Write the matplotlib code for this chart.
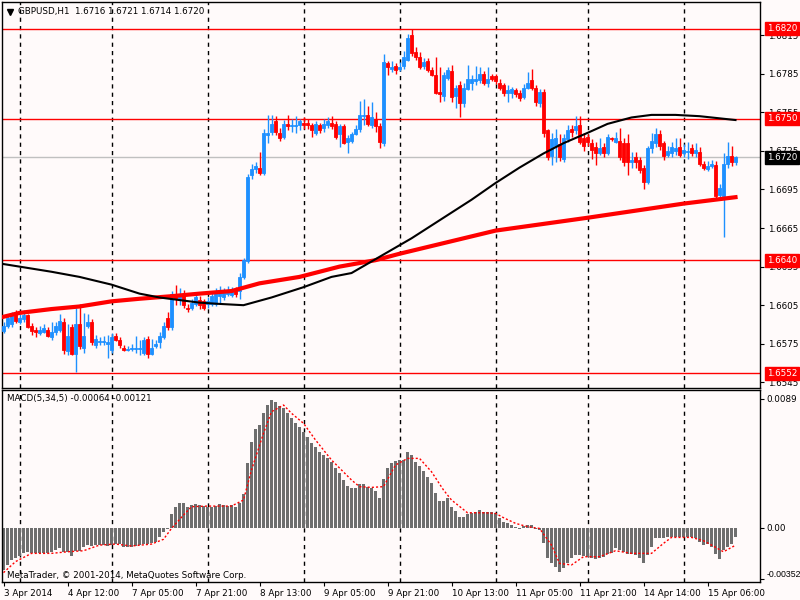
import numpy as np
import matplotlib
matplotlib.use('Agg')
import matplotlib.pyplot as plt

# GBPUSD H1 candles, prices in pips (x 0.0001)
opens = [
    16585, 16589, 16590, 16598, 16592, 16594, 16597, 16589, 16586, 16583,
    16584, 16586, 16580, 16584, 16586, 16592, 16569, 16588, 16567, 16590,
    16572, 16589, 16592, 16574, 16576, 16576, 16575, 16570, 16581, 16578,
    16572, 16570, 16571, 16571, 16571, 16568, 16579, 16567, 16573, 16576,
    16580, 16595, 16588, 16613, 16609, 16613, 16603, 16603, 16606, 16609,
    16608, 16606, 16606, 16606, 16612, 16611, 16614, 16613, 16617, 16616,
    16627, 16639, 16706, 16711, 16712, 16708, 16737, 16740, 16748, 16739,
    16736, 16746, 16744, 16744, 16745, 16747, 16747, 16745, 16739, 16745,
    16743, 16745, 16747, 16746, 16738, 16744, 16732, 16733, 16738, 16742,
    16752, 16753, 16745, 16750, 16744, 16731, 16793, 16789, 16791, 16789,
    16791, 16796, 16815, 16802, 16798, 16791, 16795, 16788, 16784, 16771,
    16768, 16782, 16787, 16768, 16776, 16762, 16773, 16778, 16779, 16780,
    16785, 16778, 16783, 16783, 16778, 16776, 16770, 16770, 16772, 16770,
    16767, 16774, 16780, 16774, 16762, 16771, 16741, 16721, 16729, 16730,
    16719, 16734, 16742, 16741, 16745, 16735, 16736, 16731, 16728, 16723,
    16728, 16723, 16735, 16732, 16733, 16731, 16731, 16716, 16720, 16718,
    16712, 16701, 16727, 16731, 16738, 16731, 16722, 16723, 16725, 16728,
    16723, 16724, 16727, 16723, 16724, 16715, 16711, 16713, 16714, 16691,
    16690, 16715, 16721, 16716,
]
highs = [
    16592, 16597, 16600, 16601, 16598, 16601, 16598, 16591, 16588, 16589,
    16590, 16588, 16592, 16592, 16598, 16595, 16590, 16590, 16603, 16606,
    16599, 16598, 16594, 16582, 16580, 16581, 16582, 16583, 16583, 16580,
    16574, 16573, 16575, 16581, 16578, 16580, 16581, 16579, 16578, 16584,
    16592, 16600, 16616, 16621, 16618, 16617, 16606, 16610, 16614, 16612,
    16610, 16611, 16615, 16618, 16620, 16618, 16620, 16619, 16619, 16630,
    16642, 16707, 16715, 16716, 16724, 16742, 16753, 16753, 16752, 16743,
    16749, 16753, 16750, 16752, 16750, 16751, 16750, 16747, 16748, 16747,
    16750, 16751, 16752, 16748, 16746, 16746, 16737, 16740, 16745, 16764,
    16765, 16760, 16763, 16755, 16747, 16800, 16795, 16795, 16793, 16794,
    16803, 16816, 16820, 16806, 16802, 16797, 16797, 16790, 16798, 16790,
    16786, 16790, 16792, 16776, 16779, 16778, 16792, 16784, 16791, 16790,
    16787, 16790, 16785, 16785, 16781, 16778, 16776, 16775, 16774, 16772,
    16777, 16786, 16789, 16776, 16773, 16773, 16742, 16739, 16742, 16738,
    16738, 16745, 16745, 16752, 16752, 16739, 16738, 16734, 16732, 16735,
    16731, 16738, 16736, 16740, 16743, 16735, 16738, 16724, 16724, 16720,
    16714, 16729, 16739, 16743, 16741, 16733, 16729, 16732, 16735, 16735,
    16730, 16732, 16730, 16731, 16728, 16717, 16717, 16718, 16717, 16699,
    16723, 16732, 16729, 16721,
]
lows = [
    16583, 16587, 16588, 16591, 16590, 16592, 16587, 16582, 16580, 16582,
    16583, 16580, 16578, 16582, 16584, 16567, 16566, 16566, 16553, 16571,
    16568, 16587, 16574, 16572, 16574, 16574, 16564, 16568, 16577, 16572,
    16569, 16569, 16569, 16568, 16566, 16566, 16564, 16566, 16572, 16572,
    16579, 16586, 16586, 16605, 16605, 16603, 16600, 16601, 16604, 16602,
    16601, 16603, 16604, 16604, 16607, 16609, 16612, 16611, 16611, 16610,
    16625, 16638, 16703, 16708, 16706, 16706, 16731, 16737, 16737, 16733,
    16734, 16741, 16740, 16739, 16741, 16742, 16742, 16736, 16737, 16739,
    16740, 16743, 16742, 16734, 16728, 16730, 16723, 16731, 16737, 16740,
    16745, 16744, 16743, 16740, 16727, 16729, 16784, 16786, 16785, 16787,
    16789, 16795, 16799, 16796, 16789, 16789, 16786, 16783, 16769, 16763,
    16764, 16780, 16763, 16758, 16751, 16759, 16772, 16772, 16776, 16778,
    16776, 16775, 16779, 16777, 16772, 16768, 16763, 16766, 16767, 16764,
    16765, 16773, 16772, 16760, 16759, 16736, 16718, 16714, 16716, 16717,
    16716, 16732, 16736, 16738, 16730, 16725, 16729, 16719, 16714, 16722,
    16720, 16722, 16733, 16731, 16718, 16713, 16706, 16712, 16712, 16708,
    16695, 16699, 16723, 16728, 16726, 16718, 16720, 16720, 16722, 16720,
    16720, 16719, 16721, 16720, 16713, 16710, 16709, 16712, 16688, 16688,
    16658, 16712, 16713, 16714,
]
closes = [
    16589, 16595, 16598, 16593, 16595, 16597, 16588, 16585, 16584, 16586,
    16587, 16581, 16584, 16589, 16593, 16570, 16581, 16567, 16590, 16573,
    16581, 16592, 16576, 16579, 16577, 16577, 16576, 16580, 16578, 16574,
    16570, 16571, 16572, 16572, 16572, 16578, 16567, 16572, 16575, 16581,
    16589, 16588, 16614, 16610, 16613, 16605, 16602, 16607, 16611, 16605,
    16603, 16608, 16612, 16615, 16616, 16616, 16617, 16616, 16614, 16627,
    16640, 16705, 16711, 16713, 16708, 16739, 16739, 16746, 16740, 16735,
    16746, 16744, 16745, 16745, 16748, 16745, 16745, 16741, 16746, 16741,
    16746, 16748, 16744, 16736, 16744, 16731, 16735, 16738, 16742, 16753,
    16753, 16746, 16751, 16744, 16732, 16794, 16790, 16790, 16788, 16790,
    16798, 16813, 16801, 16798, 16790, 16794, 16788, 16784, 16770, 16769,
    16784, 16788, 16767, 16774, 16762, 16774, 16781, 16781, 16781, 16785,
    16778, 16781, 16781, 16779, 16774, 16770, 16772, 16773, 16769, 16766,
    16774, 16778, 16774, 16763, 16771, 16739, 16720, 16734, 16735, 16720,
    16735, 16741, 16740, 16744, 16732, 16729, 16732, 16726, 16723, 16727,
    16723, 16736, 16734, 16735, 16720, 16716, 16716, 16718, 16716, 16710,
    16701, 16727, 16733, 16738, 16729, 16721, 16725, 16728, 16727, 16722,
    16726, 16725, 16723, 16726, 16715, 16712, 16713, 16715, 16690, 16696,
    16715, 16721, 16716, 16720,
]

# moving averages read at a few bars (bar index, pips)
ma_slow_idx = [0, 4, 12, 19, 27, 34, 39, 44, 49, 54, 60, 67, 75, 82, 87, 92,
               97, 102, 107, 112, 117, 123, 129, 135, 140, 146, 151, 157, 162,
               168, 174, 183]
ma_slow_val = [16637, 16635, 16631, 16627, 16621, 16614, 16611, 16609, 16607,
               16606, 16605, 16611, 16619, 16627, 16630, 16639, 16648, 16657,
               16667, 16677, 16687, 16700, 16712, 16723, 16731, 16739, 16746,
               16751, 16753, 16753, 16752, 16749]
ma_fast_idx = [0, 4, 12, 19, 27, 34, 42, 49, 57, 64, 74, 84, 93, 99, 111, 123,
               146, 170, 183]
ma_fast_val = [16596, 16599, 16602, 16604, 16608, 16610, 16612, 16614, 16616,
               16622, 16627, 16635, 16640, 16645, 16654, 16663, 16673, 16684,
               16689]

# MACD(5,34,5) histogram, units of 0.0001
macd_hist = [
    -29.2, -25.7, -22.3, -21.2, -19.5, -17.7, -16.6, -17.2, -17.7, -17.7,
    -17.2, -17.7, -16.6, -15.4, -14.3, -16.6, -17.0, -19.5, -16.1, -15.9,
    -13.1, -12.0, -12.6, -12.0, -12.0, -12.0, -12.6, -12.0, -11.3, -11.3,
    -13.1, -13.6, -13.1, -12.6, -12.2, -11.3, -11.3, -10.3, -9.7, -6.2,
    -2.8, -1.1, 9.4, 14.5, 17.2, 17.2, 14.5, 15.6, 16.3, 15.6,
    14.9, 14.5, 14.0, 14.9, 16.3, 15.6, 14.9, 15.6, 14.5, 17.2,
    23.2, 44.8, 59.3, 67.8, 70.8, 79.3, 84.6, 88.1, 86.9, 83.9,
    82.3, 79.3, 75.4, 72.4, 69.2, 66.2, 62.8, 58.2, 55.4, 52.4,
    50.1, 47.8, 45.5, 41.1, 37.5, 32.9, 28.7, 27.1, 27.1, 30.1,
    30.1, 28.3, 27.1, 25.5, 20.2, 33.3, 40.9, 44.8, 46.0, 46.5,
    46.7, 52.4, 50.1, 45.5, 42.5, 39.3, 34.7, 30.6, 24.1, 18.4,
    18.4, 20.2, 14.5, 11.7, 7.6, 7.6, 9.4, 9.9, 11.0, 12.2,
    10.8, 10.8, 10.8, 9.9, 6.4, 4.1, 3.0, 1.8, 0.7, -1.1,
    1.1, 1.8, 1.8, -1.1, -1.6, -10.3, -21.2, -24.1, -26.9, -30.3,
    -28.0, -24.6, -21.2, -18.9, -18.9, -19.5, -20.5, -21.2, -21.8, -21.2,
    -20.0, -18.4, -17.2, -14.3, -15.4, -16.6, -18.2, -18.2, -18.9, -21.2,
    -24.1, -18.9, -13.1, -7.4, -7.4, -7.4, -6.7, -6.2, -6.2, -6.2,
    -6.2, -6.7, -6.2, -7.4, -9.7, -12.0, -11.3, -13.1, -18.2, -21.6,
    -15.4, -13.1, -11.3, -6.4,
]
signal_idx = [0, 3, 7, 12, 16, 20, 24, 28, 32, 37, 40, 42, 45, 47, 51, 57, 60,
              62, 65, 67, 70, 72, 75, 78, 82, 87, 89, 92, 95, 98, 101, 104,
              107, 110, 112, 116, 120, 123, 125, 128, 131, 134, 137, 139, 142,
              145, 149, 153, 157, 162, 165, 167, 172, 175, 177, 180, 183]
signal_val = [-31.0, -23.4, -17.7, -17.7, -16.6, -15.9, -12.0, -11.3, -12.6,
              -11.3, -8.0, -0.5, 8.7, 14.5, 14.9, 14.9, 19.1, 39.8, 65.1, 80.0,
              84.6, 78.9, 72.0, 60.5, 46.7, 32.9, 28.3, 27.8, 28.3, 43.2, 47.8,
              47.8, 38.6, 26.0, 19.1, 10.3, 10.3, 9.9, 6.9, 3.0, 0.7, -0.5,
              -12.0, -24.6, -25.7, -20.0, -20.0, -15.9, -17.7, -17.7, -10.8,
              -6.7, -6.7, -9.0, -12.0, -16.6, -12.1]

# levels
red_levels = [1.6820, 1.6750, 1.6640, 1.6552]
last_price = 1.6720
price_ticks = [1.6545, 1.6575, 1.6605, 1.6635, 1.6665, 1.6695, 1.6725,
               1.6755, 1.6785, 1.6815]
macd_ticks = [0.0089, 0.0, -0.00352]
macd_tick_labels = ['0.0089', '0.00', '-0.00352']
day_breaks = [4, 27, 51, 75, 99, 123, 146, 170]
time_tick_idx = [0, 16, 32, 48, 64, 80, 96, 112, 128, 144, 160, 176]
time_tick_labels = ['3 Apr 2014', '4 Apr 12:00', '7 Apr 05:00', '7 Apr 21:00',
                    '8 Apr 13:00', '9 Apr 05:00', '9 Apr 21:00', '10 Apr 13:00',
                    '11 Apr 05:00', '11 Apr 21:00', '14 Apr 14:00',
                    '15 Apr 06:00']

BG = '#FFFAFA'
UP = '#1E90FF'
DOWN = '#FF0000'
FS = 6.3


def main():
    o = np.array(opens) / 1e4
    h = np.array(highs) / 1e4
    l = np.array(lows) / 1e4
    c = np.array(closes) / 1e4
    idx = np.arange(len(c))

    fig = plt.figure(figsize=(8, 6), dpi=100, facecolor=BG)
    W, H = 800.0, 600.0
    ax = fig.add_axes([2 / W, 1 - 388 / H, 758 / W, 386 / H], facecolor=BG)
    ax2 = fig.add_axes([2 / W, 1 - 582 / H, 758 / W, 192 / H], facecolor=BG)

    xlim = (-0.375, 189.125)

    # price panel
    for d in day_breaks:
        ax.axvline(d, color='black', lw=1, ls=(0, (3, 3)), zorder=1)
        ax2.axvline(d, color='black', lw=1, ls=(0, (3, 3)), zorder=1)
    for lv in red_levels:
        ax.axhline(lv, color='red', lw=1, zorder=1)
    ax.axhline(last_price, color='#C0C0C0', lw=1, zorder=1)

    up = c >= o
    cols = np.where(up, UP, DOWN)
    ax.vlines(idx, l, h, colors=cols, lw=1, zorder=3)
    ax.bar(idx, np.abs(c - o), bottom=np.minimum(o, c), width=0.75,
           color=cols, edgecolor=cols, linewidth=0.6, zorder=3)

    ax.plot(np.array(ma_fast_idx), np.array(ma_fast_val) / 1e4,
            color='red', lw=3, zorder=4)
    ax.plot(np.array(ma_slow_idx), np.array(ma_slow_val) / 1e4,
            color='black', lw=1.5, zorder=4)

    ax.set_xlim(*xlim)
    ax.set_ylim(1.65406, 1.68408)
    ax.set_xticks([])
    ax.yaxis.tick_right()
    ax.set_yticks(price_ticks)
    ax.set_yticklabels(['%.4f' % t for t in price_ticks])
    ax.tick_params(axis='y', length=3, pad=3, labelsize=FS, colors='black')

    ytr = ax.get_yaxis_transform()
    for lv in red_levels:
        ax.text(1.009, lv, '%.4f' % lv, transform=ytr, ha='left', va='center',
                fontsize=FS, color='white', zorder=10, clip_on=False,
                bbox=dict(boxstyle='square,pad=0.25', fc='red', ec='red'))
    ax.text(1.009, last_price, '%.4f' % last_price, transform=ytr, ha='left',
            va='center', fontsize=FS, color='white', zorder=10, clip_on=False,
            bbox=dict(boxstyle='square,pad=0.25', fc='black', ec='black'))

    ax.plot([0.011], [0.975], marker='v', color='black', markersize=4,
            transform=ax.transAxes, clip_on=False)
    ax.text(0.021, 0.975, 'GBPUSD,H1  1.6716 1.6721 1.6714 1.6720',
            transform=ax.transAxes, ha='left', va='center', fontsize=FS)

    # MACD panel
    hist = np.array(macd_hist) / 1e4
    ax2.bar(idx, hist, width=0.75, color='#6E6E6E', zorder=2)
    ax2.plot(np.array(signal_idx), np.array(signal_val) / 1e4, color='red',
             lw=1, ls=(0, (1.5, 1.5)), zorder=3)
    ax2.set_xlim(*xlim)
    ax2.set_ylim(-0.003745, 0.009497)
    ax2.yaxis.tick_right()
    ax2.set_yticks(macd_ticks)
    ax2.set_yticklabels(macd_tick_labels)
    ax2.tick_params(axis='y', length=3, pad=1.5, labelsize=FS)
    # bottom label sits a little higher and is narrower in the terminal
    low_lab = ax2.get_yticklabels()[2]
    low_lab.set_va('bottom')
    low_lab.set_family('Liberation Sans')
    ax2.set_xticks(time_tick_idx)
    ax2.set_xticklabels(time_tick_labels)
    ax2.tick_params(axis='x', length=3, pad=2, labelsize=FS)
    for lab in ax2.get_xticklabels():
        lab.set_ha('left')
    ax2.text(0.006, 0.955, 'MACD(5,34,5) -0.00064 -0.00121',
             transform=ax2.transAxes, ha='left', va='center', fontsize=FS)
    ax2.text(0.006, 0.035, 'MetaTrader, \u00a9 2001-2014, MetaQuotes Software Corp.',
             transform=ax2.transAxes, ha='left', va='center', fontsize=FS)

    for a in (ax, ax2):
        for s in a.spines.values():
            s.set_color('black')
            s.set_linewidth(1)

    fig.savefig('out.png', dpi=100, facecolor=BG)


if __name__ == "__main__":
    main()
